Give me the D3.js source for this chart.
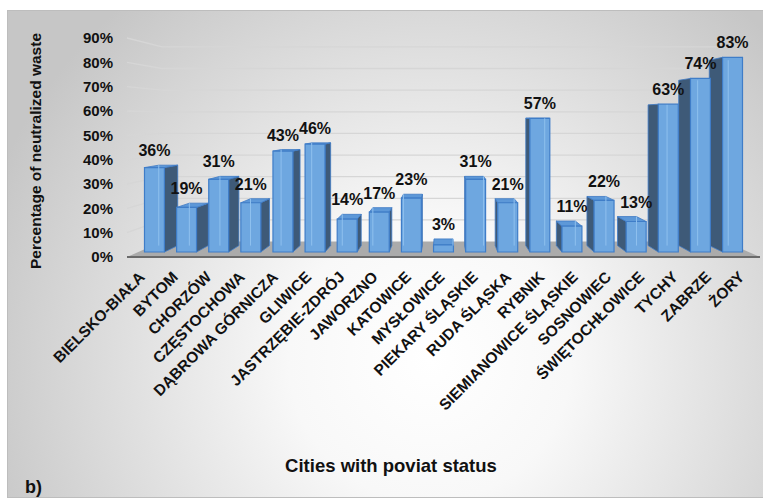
<!DOCTYPE html>
<html><head><meta charset="utf-8">
<script src="https://cdn.jsdelivr.net/npm/d3@7"></script>
<style>
html,body{margin:0;padding:0;background:#fff;}
svg{display:block;font-family:"Liberation Sans",Arial,sans-serif;}
</style></head>
<body>
<svg id="c" width="763" height="501"></svg>
<script>
const categories = ["BIELSKO-BIAŁA","BYTOM","CHORZÓW","CZĘSTOCHOWA","DĄBROWA GÓRNICZA","GLIWICE","JASTRZĘBIE-ZDRÓJ","JAWORZNO","KATOWICE","MYSŁOWICE","PIEKARY ŚLĄSKIE","RUDA ŚLĄSKA","RYBNIK","SIEMIANOWICE ŚLĄSKIE","SOSNOWIEC","ŚWIĘTOCHŁOWICE","TYCHY","ZABRZE","ŻORY"];
const values = [36,19,31,21,43,46,14,17,23,3,31,21,57,11,22,13,63,74,83];
const yTicks = [0,10,20,30,40,50,60,70,80,90];
const yTitle = "Percentage of neutralized waste";
const xTitle = "Cities with poviat status";
const panelLabel = "b)";

const svg = d3.select("#c");
const defs = svg.append("defs");
const rg = defs.append("radialGradient").attr("id","bg").attr("gradientUnits","userSpaceOnUse")
  .attr("cx",430).attr("cy",360).attr("r",470);
rg.append("stop").attr("offset",0).attr("stop-color","#ffffff");
rg.append("stop").attr("offset",0.3).attr("stop-color","#f8f8f8");
rg.append("stop").attr("offset",1).attr("stop-color","#c6c6c6");

svg.append("rect").attr("x",7.5).attr("y",10.5).attr("width",760).attr("height",487)
  .attr("fill","url(#bg)").attr("stroke","#bdbdbd");

const left = 127, right = 760, base = 257;
const x = d3.scaleBand().domain(categories).range([left,right]).paddingInner(0.38).paddingOuter(0.19);
const y = d3.scaleLinear().domain([0,90]).range([base,38]);

const vpX = (left+right)/2, vpY = 118;
const sW = 0.111, sF = 0.036, sB = 0.082;
const P = (px,py,s) => [px + (vpX-px)*s, py + (vpY-py)*s];
const pts = a => a.map(p => p.join(",")).join(" ");

// gridlines on side wall and back wall
const grid = svg.append("g");
yTicks.filter(v => v>0).forEach(v => {
  const a = P(left,y(v),0), b = P(left,y(v),sW), c = P(right,y(v),sW);
  grid.append("path").attr("d",`M${a}L${b}L${c}`).attr("fill","none")
    .attr("stroke","#d6d6d6").attr("stroke-width",1.3);
});

// floor
svg.append("polygon").attr("points",pts([P(left,base,0),P(right,base,0),P(right,base,sW),P(left,base,sW)]))
  .attr("fill","#ababab");
svg.append("line").attr("x1",left).attr("x2",right).attr("y1",base).attr("y2",base)
  .attr("stroke","#6a6a6a").attr("stroke-width",2);

// bars
const data = categories.map((c,i)=>({c, v:values[i]}));
const bw = x.bandwidth();
const order = data.slice().sort((a,b)=>Math.abs(x(b.c)+bw/2-vpX)-Math.abs(x(a.c)+bw/2-vpX));
const bars = svg.append("g");
order.forEach(d => {
  const x0 = x(d.c), x1 = x0+bw, yt = y(d.v), yb = y(0);
  const cx = x0+bw/2;
  const g = bars.append("g");
  const xs = cx < vpX ? x1 : x0;
  const xo = cx < vpX ? x0 : x1;
  if (Math.abs(cx - vpX) > 2) {
    g.append("polygon").attr("points",pts([P(xs,yt,sF),P(xs,yt,sB),P(xs,yb,sB),P(xs,yb,sF)]))
      .attr("fill","#3e5a78").attr("stroke","#3f7ac4").attr("stroke-width",0.8);
  }
  if (yt > vpY) {
    g.append("polygon").attr("points",pts([P(x0,yt,sF),P(x1,yt,sF),P(x1,yt,sB),P(x0,yt,sB)]))
      .attr("fill","#5d98d8").attr("stroke","#3f7ac4").attr("stroke-width",0.8);
  }
  g.append("polygon").attr("points",pts([P(x0,yt,sF),P(x1,yt,sF),P(x1,yb,sF),P(x0,yb,sF)]))
    .attr("fill","#6ea7e0").attr("stroke","#3f7dc8").attr("stroke-width",1.2);
  const a = P(xo,yt,sB), b = P(xo,yb,sB);
  g.append("line").attr("x1",a[0]).attr("y1",a[1]).attr("x2",b[0]).attr("y2",b[1])
    .attr("stroke","#8fc0ee").attr("stroke-width",1);
});

// data labels
const lab = svg.append("g");
data.forEach(d => {
  const cx = x(d.c)+bw/2, yt = y(d.v);
  const f = P(cx,yt,sF), b = P(cx,yt,sB);
  lab.append("text").attr("x",f[0]).attr("y",Math.min(f[1],b[1])-9)
    .attr("text-anchor","middle").attr("font-size",16).attr("font-weight","bold")
    .attr("fill","#111").text(d.v+"%");
});

// y axis
const ya = svg.append("g").attr("transform","translate(116,0)")
  .call(d3.axisLeft(y).tickValues(yTicks).tickFormat(d=>d+"%").tickSize(0).tickPadding(3));
ya.select(".domain").remove();
ya.selectAll("text").attr("font-size",15).attr("font-weight","bold").attr("fill","#111")
  .attr("font-family","'Liberation Sans',Arial,sans-serif");

// x axis labels
const xa = svg.append("g").attr("transform",`translate(0,${base})`)
  .call(d3.axisBottom(x).tickSize(0));
xa.select(".domain").remove();
xa.selectAll("text").attr("y",null).attr("dy",null)
  .attr("transform","translate(2,21) rotate(-45)")
  .attr("text-anchor","end").attr("font-size",15.5).attr("font-weight","bold").attr("fill","#111")
  .attr("font-family","'Liberation Sans',Arial,sans-serif");

// titles
svg.append("text").attr("transform","translate(41,151) rotate(-90)").attr("text-anchor","middle")
  .attr("font-size",15.5).attr("font-weight","bold").attr("fill","#111").text(yTitle);
svg.append("text").attr("x",391).attr("y",472).attr("text-anchor","middle")
  .attr("font-size",18.5).attr("font-weight","bold").attr("fill","#111").text(xTitle);
svg.append("text").attr("x",25).attr("y",493)
  .attr("font-size",18).attr("font-weight","bold").attr("fill","#111").text(panelLabel);
</script>
</body></html>
